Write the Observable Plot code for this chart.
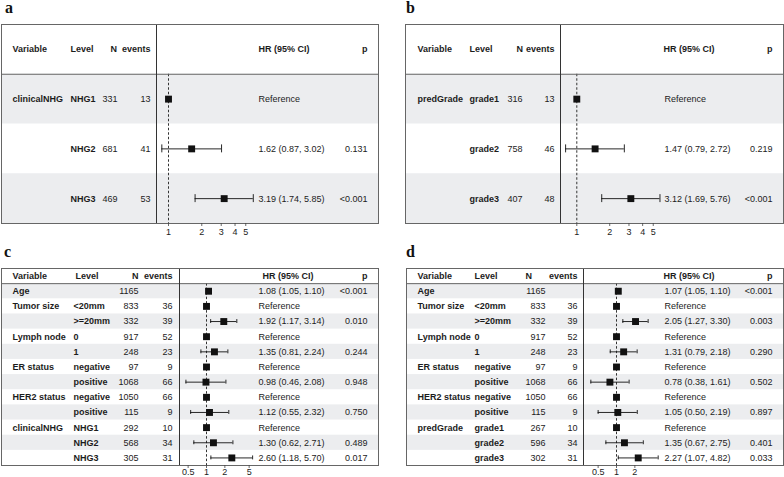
<!DOCTYPE html>
<html><head><meta charset="utf-8">
<script src="https://cdn.jsdelivr.net/npm/d3@7"></script>
<script src="https://cdn.jsdelivr.net/npm/@observablehq/plot@0.6"></script>
<style>
body{margin:0;background:#fff;}
#wrap{position:relative;width:784px;height:477px;overflow:hidden;font-family:"Liberation Sans",Arial,Helvetica,sans-serif;}
.panel{position:absolute;}
.lab{position:absolute;font-family:"Liberation Serif","DejaVu Serif",serif;font-weight:bold;font-size:16px;line-height:16px;color:#111;}
</style></head><body><div id="wrap"></div>
<script>
// ---------- data ----------
const headerLabels = ["Variable", "Level", "N", "events", "HR (95% CI)", "p"];
const panelLetters = ["a", "b", "c", "d"];

// panel a
const aVariable = ["clinicalNHG", "", ""];
const aLevel = ["NHG1", "NHG2", "NHG3"];
const aN = [331, 681, 469];
const aEvents = [13, 41, 53];
const aHR = [1, 1.62, 3.19];
const aLower = [null, 0.87, 1.74];
const aUpper = [null, 3.02, 5.85];
const aP = ["", "0.131", "<0.001"];
const aTicks = [1, 2, 3, 4, 5];

// panel b
const bVariable = ["predGrade", "", ""];
const bLevel = ["grade1", "grade2", "grade3"];
const bN = [316, 758, 407];
const bEvents = [13, 46, 48];
const bHR = [1, 1.47, 3.12];
const bLower = [null, 0.79, 1.69];
const bUpper = [null, 2.72, 5.76];
const bP = ["", "0.219", "<0.001"];
const bTicks = [1, 2, 3, 4, 5];

// panel c
const cVariable = ["Age", "Tumor size", "", "Lymph node", "", "ER status", "", "HER2 status", "", "clinicalNHG", "", ""];
const cLevel = ["", "<20mm", ">=20mm", "0", "1", "negative", "positive", "negative", "positive", "NHG1", "NHG2", "NHG3"];
const cN = [1165, 833, 332, 917, 248, 97, 1068, 1050, 115, 292, 568, 305];
const cEvents = [null, 36, 39, 52, 23, 9, 66, 66, 9, 10, 34, 31];
const cHR = [1.08, 1, 1.92, 1, 1.35, 1, 0.98, 1, 1.12, 1, 1.30, 2.60];
const cLower = [1.05, null, 1.17, null, 0.81, null, 0.46, null, 0.55, null, 0.62, 1.18];
const cUpper = [1.10, null, 3.14, null, 2.24, null, 2.08, null, 2.32, null, 2.71, 5.70];
const cP = ["<0.001", "", "0.010", "", "0.244", "", "0.948", "", "0.750", "", "0.489", "0.017"];
const cTicks = [0.5, 1, 2, 5];

// panel d
const dVariable = ["Age", "Tumor size", "", "Lymph node", "", "ER status", "", "HER2 status", "", "predGrade", "", ""];
const dLevel = ["", "<20mm", ">=20mm", "0", "1", "negative", "positive", "negative", "positive", "grade1", "grade2", "grade3"];
const dN = [1165, 833, 332, 917, 248, 97, 1068, 1050, 115, 267, 596, 302];
const dEvents = [null, 36, 39, 52, 23, 9, 66, 66, 9, 10, 34, 31];
const dHR = [1.07, 1, 2.05, 1, 1.31, 1, 0.78, 1, 1.05, 1, 1.35, 2.27];
const dLower = [1.05, null, 1.27, null, 0.79, null, 0.38, null, 0.50, null, 0.67, 1.07];
const dUpper = [1.10, null, 3.30, null, 2.18, null, 1.61, null, 2.19, null, 2.75, 4.82];
const dP = ["<0.001", "", "0.003", "", "0.290", "", "0.502", "", "0.897", "", "0.401", "0.033"];
const dTicks = [0.5, 1, 2];

// ---------- helpers ----------
const f2 = d3.format(".2f");
function makeRows(v, l, n, e, hr, lo, up, p) {
  return v.map((_, j) => ({
    i: j + 1, variable: v[j], level: l[j], n: String(n[j]), events: e[j] == null ? "" : String(e[j]),
    hr: hr[j], lo: lo[j], up: up[j], p: p[j],
    label: lo[j] == null ? "Reference" : `${f2(hr[j])} (${f2(lo[j])}, ${f2(up[j])})`
  }));
}

const FONT = '"Liberation Sans", Arial, Helvetica, sans-serif';
const INK = "#1c1c1c";

function drawPanel(rows, cfg) {
  const N = rows.length + 1;
  const rowH = (cfg.boxB - cfg.boxT) / N;
  const xAt = px => Math.exp((px - cfg.one) / cfg.k);
  const dom = [xAt(cfg.boxL), xAt(cfg.boxR)];
  const common = {fontSize: 9, fill: INK, fontFamily: FONT};
  const col = (key, x, anchor, extra = {}) =>
    Plot.text(rows, {y: d => d.i + 0.5, frameAnchor: "left", dx: x - cfg.boxL, text: key, textAnchor: anchor, ...common, ...extra});
  const hdr = (t, x, anchor) =>
    Plot.text([t], {y: 0.5, frameAnchor: "left", dx: x - cfg.boxL, text: d => d, textAnchor: anchor, fontWeight: "bold", ...common});
  const stripes = rows.filter(d => d.i % 2 === 1);
  const withCI = rows.filter(d => d.lo != null);
  const svg = Plot.plot({
    width: cfg.w, height: cfg.h,
    marginLeft: cfg.boxL, marginRight: cfg.w - cfg.boxR, marginTop: cfg.boxT, marginBottom: cfg.h - cfg.boxB,
    style: {fontFamily: FONT, fontSize: "9px", color: INK, background: "transparent", overflow: "visible"},
    x: {type: "log", domain: dom, axis: null},
    y: {domain: [0, N], reverse: true, axis: null},
    marks: [
      Plot.rect(stripes, {x1: dom[0], x2: dom[1], y1: d => d.i, y2: d => d.i + 1, fill: "#ecedef"}),
      Plot.ruleX([1], {y1: 1, y2: N, stroke: "#333", strokeDasharray: "2.5,2", strokeWidth: 1}),
      Plot.ruleY(withCI, {y: d => d.i + 0.5, x1: "lo", x2: "up", stroke: "#111", strokeWidth: 0.9}),
      Plot.ruleX(withCI, {x: "lo", y1: d => d.i + 0.5 - cfg.cap, y2: d => d.i + 0.5 + cfg.cap, stroke: "#111", strokeWidth: 0.9}),
      Plot.ruleX(withCI, {x: "up", y1: d => d.i + 0.5 - cfg.cap, y2: d => d.i + 0.5 + cfg.cap, stroke: "#111", strokeWidth: 0.9}),
      Plot.dot(rows, {x: "hr", y: d => d.i + 0.5, symbol: "square", r: cfg.r, fill: "#111", stroke: "none"}),
      hdr(headerLabels[0], cfg.varX, "start"),
      hdr(headerLabels[1], cfg.levelHX, "start"),
      hdr(headerLabels[2], cfg.nHX, cfg.nHAnchor),
      hdr(headerLabels[3], cfg.evX, "end"),
      hdr(headerLabels[4], cfg.hrHX, "start"),
      hdr(headerLabels[5], cfg.pX, "end"),
      col("variable", cfg.varX, "start", {fontWeight: "bold"}),
      col("level", cfg.levelX, "start", {fontWeight: "bold"}),
      col("n", cfg.nX, cfg.nAnchor),
      col("events", cfg.evX, "end"),
      col("label", cfg.hrX, "start"),
      col("p", cfg.pX, "end"),
      Plot.ruleY([1], {stroke: "#666", strokeWidth: 1}),
      Plot.ruleX([xAt(cfg.div)], {stroke: "#333", strokeWidth: 1}),
      Plot.frame({stroke: "#666", strokeWidth: 1}),
      // x axis: ticks and labels below the box
      Plot.ruleX(cfg.ticks, {x: d => d, y1: N, y2: N + 3 / rowH, stroke: "#444", strokeWidth: 0.8}),
      Plot.text(cfg.ticks, {x: d => d, y: N, dy: cfg.tickDy, text: d => String(d), ...common})
    ]
  });
  svg.classList.add("panel");
  svg.style.left = cfg.left + "px";
  svg.style.top = cfg.top + "px";
  return svg;
}

const wrap = document.getElementById("wrap");

const panels = [
  [makeRows(aVariable, aLevel, aN, aEvents, aHR, aLower, aUpper, aP),
   {left: 0, top: 0, w: 392, h: 240, boxL: 1, boxR: 378, boxT: 24, boxB: 223, div: 156, one: 168, k: 48,
    varX: 12, levelX: 70, levelHX: 70, nX: 102, nAnchor: "start", nHX: 110, nHAnchor: "start", evX: 150,
    hrX: 258, hrHX: 258, pX: 367, cap: 0.08, r: 3.9, ticks: aTicks, tickDy: 9}],
  [makeRows(bVariable, bLevel, bN, bEvents, bHR, bLower, bUpper, bP),
   {left: 392, top: 0, w: 392, h: 240, boxL: 13, boxR: 391, boxT: 24, boxB: 223, div: 168, one: 184.3, k: 47.5,
    varX: 25, levelX: 77, levelHX: 77, nX: 115, nAnchor: "start", nHX: 124, nHAnchor: "start", evX: 162,
    hrX: 272, hrHX: 271, pX: 380, cap: 0.08, r: 3.9, ticks: bTicks, tickDy: 9}],
  [makeRows(cVariable, cLevel, cN, cEvents, cHR, cLower, cUpper, cP),
   {left: 0, top: 240, w: 392, h: 237, boxL: 1, boxR: 378, boxT: 28, boxB: 225, div: 179, one: 206, k: 26.5,
    varX: 12, levelX: 73, levelHX: 75, nX: 138, nAnchor: "end", nHX: 138, nHAnchor: "end", evX: 172,
    hrX: 258, hrHX: 262, pX: 367, cap: 0.13, r: 3.9, ticks: cTicks, tickDy: 7}],
  [makeRows(dVariable, dLevel, dN, dEvents, dHR, dLower, dUpper, dP),
   {left: 392, top: 240, w: 392, h: 237, boxL: 14, boxR: 391, boxT: 28, boxB: 225, div: 191, one: 224, k: 26.5,
    varX: 25, levelX: 82, levelHX: 82, nX: 153, nAnchor: "end", nHX: 133, nHAnchor: "start", evX: 185,
    hrX: 272, hrHX: 271, pX: 380, cap: 0.13, r: 3.9, ticks: dTicks, tickDy: 7}]
];

panels.forEach(([rows, cfg]) => wrap.appendChild(drawPanel(rows, cfg)));

const labelPos = [[5, 0], [406, 0], [4, 244], [406, 244]];
panelLetters.forEach((t, j) => {
  const div = document.createElement("div");
  div.className = "lab";
  div.textContent = t;
  div.style.left = labelPos[j][0] + "px";
  div.style.top = labelPos[j][1] + "px";
  wrap.appendChild(div);
});
</script>
</body></html>
